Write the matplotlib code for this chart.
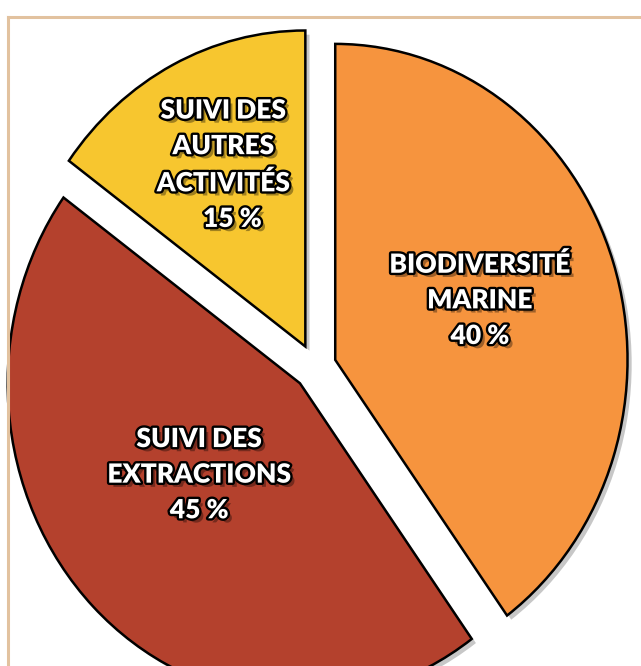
import matplotlib
matplotlib.use("Agg")
import matplotlib.pyplot as plt
import matplotlib.patheffects as pe
from matplotlib.lines import Line2D
import numpy as np

# ---- data ----
categories = ["BIODIVERSITÉ\nMARINE", "SUIVI DES\nEXTRACTIONS", "SUIVI DES\nAUTRES\nACTIVITÉS"]
values = [40, 45, 15]
colors = ["#F6943E", "#B4412D", "#F7C62F"]

W, H = 641, 666
fig = plt.figure(figsize=(W / 100, H / 100), dpi=100)
ax = fig.add_axes([0, 0, 1, 1])

sx = 0.925           # horizontal pixels per data unit (pie looks slightly narrow)
R = 316              # radius in vertical pixels
cx, cy = 315 / sx, H - 367
gap = 23             # explode distance (data units)

wedges, _ = ax.pie(values, colors=colors, startangle=90, counterclock=False,
                   explode=[gap, gap, gap], radius=R, center=(cx, cy),
                   wedgeprops=dict(edgecolor="black", linewidth=1.8, joinstyle="miter"),
                   frame=False)
for w in wedges:
    w.set_path_effects([pe.SimplePatchShadow(offset=(3, -3), alpha=0.22, shadow_rgbFace="black"),
                        pe.Normal()])

ax.set_aspect("auto")
ax.set_xlim(0, W / sx)
ax.set_ylim(0, H)
ax.axis("off")

# label positions: distance factor and angle tweak per wedge
dist = [0.53, 0.45, 0.64]
dang = [3, -5, -1]
pcts = [f"{v} %" for v in values]
texts = [f"{categories[0]}\n{pcts[0]}",
         f"{categories[1]}\n{pcts[1]}",
         f"{categories[2]}\n   {pcts[2]}"]

txt_fx = [pe.SimplePatchShadow(offset=(3, -3), alpha=0.35, shadow_rgbFace="black"),
          pe.Stroke(linewidth=3.4, foreground="black"), pe.Normal()]
for w, t, d, da in zip(wedges, texts, dist, dang):
    th = np.deg2rad((w.theta1 + w.theta2) / 2 + da)
    x0, y0 = w.center
    ax.text(x0 + d * w.r * np.cos(th), y0 + d * w.r * np.sin(th), t,
            ha="center", va="center", color="white", fontsize=19,
            fontweight="heavy", family=["Lato", "DejaVu Sans"], linespacing=1.58,
            path_effects=txt_fx)

# beige frame (top and left)
fc = "#E2C29F"
fig.add_artist(Line2D([8 / W, 8 / W], [0, 1 - 17 / H], transform=fig.transFigure, color=fc, lw=2.2))
fig.add_artist(Line2D([8 / W, 1], [1 - 17 / H, 1 - 17 / H], transform=fig.transFigure, color=fc, lw=2.2))

fig.savefig("out.png", dpi=100)
